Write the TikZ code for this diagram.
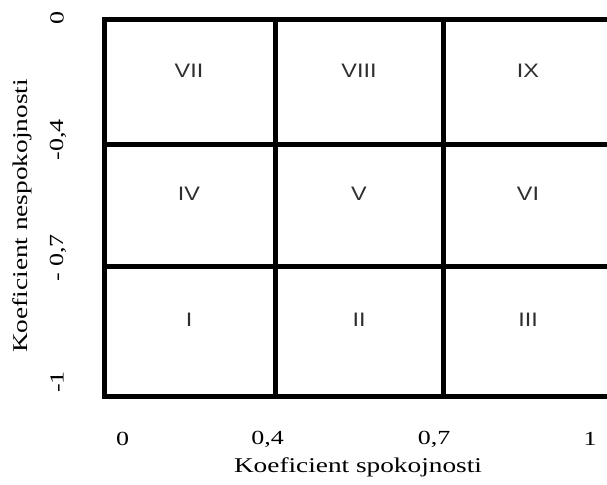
\documentclass[tikz,border=0pt]{standalone}
\usepackage{fontspec}
\newfontfamily\axisfont[FakeStretch=1.3]{Liberation Serif}
\newfontfamily\cellfont[FakeStretch=1.2]{Liberation Sans}
\begin{document}
\begin{tikzpicture}[x=1pt,y=-1pt,
  gridline/.style={line width=5pt, black},
  cell/.style={font=\cellfont\fontsize{19.5}{19.5}\selectfont, text=black!82, inner sep=0pt},
  tick/.style={font=\axisfont\fontsize{20}{20}\selectfont, inner sep=0pt},
  axtitle/.style={font=\axisfont\fontsize{21}{21}\selectfont, inner sep=0pt}]
\useasboundingbox (0,0) rectangle (607,484);
\fill[white] (0,0) rectangle (607,484);

% grid frame (open on the right) and inner lines
\draw[gridline] (607,20) -- (104.5,20) -- (104.5,396) -- (607,396);
\draw[gridline] (104.5,144.5) -- (607,144.5);
\draw[gridline] (104.5,266.5) -- (607,266.5);
\draw[gridline] (275,20) -- (275,396);
\draw[gridline] (443.5,20) -- (443.5,396);

% cell labels
\node[cell] (c7) at (189,71) {VII};
\node[cell] (c8) at (359,71) {VIII};
\node[cell] (c9) at (528,71) {IX};
\node[cell] (c4) at (189,194) {IV};
\node[cell] (c5) at (359,194) {V};
\node[cell] (c6) at (528,194) {VI};
\node[cell] (c1) at (189,320) {I};
\node[cell] (c2) at (359,320) {II};
\node[cell] (c3) at (528,320) {III};

% horizontal axis
\node[tick] (x0) at (122.5,439) {0};
\node[tick] (x1) at (267.5,439) {0,4};
\node[tick] (x2) at (434,439) {0,7};
\node[tick] (x3) at (590,439) {1};
\node[axtitle] (xt) at (358,467) {Koeficient spokojnosti};

% vertical axis
\node[tick, rotate=90] (y0) at (57,18) {0};
\node[tick, rotate=90] (y1) at (58,140) {-0,4};
\node[tick, rotate=90] (y2) at (58,258) {- 0,7};
\node[tick, rotate=90] (y3) at (57,382) {-1};
\node[axtitle, rotate=90] (yt) at (22,216) {Koeficient nespokojnosti};
\end{tikzpicture}
\end{document}
